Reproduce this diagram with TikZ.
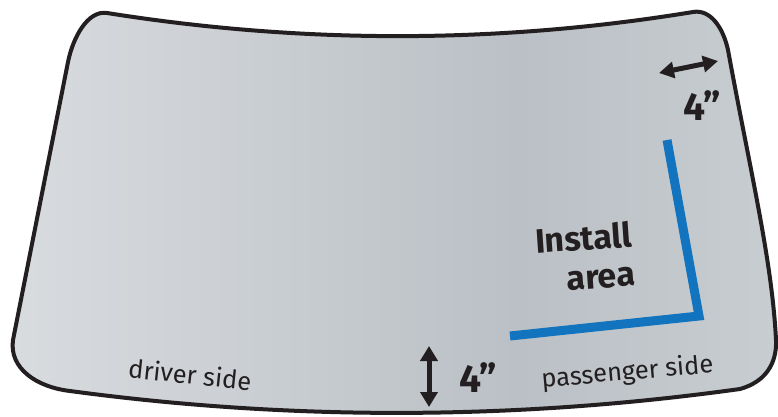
\documentclass[tikz,border=0pt]{standalone}
\usepackage{fontspec}
\setmainfont{Fira Sans}
\usetikzlibrary{arrows.meta}
\definecolor{glassA}{RGB}{216,220,223}
\definecolor{glassB}{RGB}{205,209,213}
\definecolor{glassC}{RGB}{186,192,197}
\definecolor{glassD}{RGB}{200,205,209}
\definecolor{rim}{RGB}{35,31,32}
\definecolor{installblue}{RGB}{18,115,190}
\definecolor{inktext}{RGB}{35,31,32}
\pgfdeclarehorizontalshading{glass}{100bp}{color(0bp)=(glassA); color(25bp)=(glassA); color(38bp)=(glassB); color(58bp)=(glassC); color(75bp)=(glassD); color(100bp)=(glassD)}
\tikzset{
  rimline/.style={draw=rim, line width=4pt, line join=round, shading=glass},
  installline/.style={draw=installblue, line width=9pt, line join=miter},
  dimarrow/.style={draw=rim, line width=5pt, {Triangle[width=17pt,length=15pt]}-{Triangle[width=17pt,length=15pt]}},
  sidelabel/.style={text=inktext, font=\fontsize{25.5}{30}\selectfont, anchor=base, inner sep=0pt},
  biglabel/.style={text=inktext, font=\fontsize{34}{39}\selectfont\bfseries, inner sep=0pt},
  dimlabel/.style={text=inktext, font=\fontsize{39}{44}\selectfont\bfseries, anchor=base, inner sep=0pt}
}
\begin{document}
\begin{tikzpicture}[x=1pt,y=-1pt]
\useasboundingbox (0,0) rectangle (778,417);
% windshield
\path[rimline] (107,13)
  .. controls (302,44) and (498,44) .. (693,12)
  .. controls (710,9) and (723,27) .. (728,50)
  .. controls (750,170) and (772,260) .. (776,340)
  .. controls (777,364) and (765,382) .. (740,389)
  .. controls (517,420) and (293,421) .. (70,391)
  .. controls (36,387) and (9,368) .. (13,340)
  -- (68,62)
  .. controls (73,37) and (88,10) .. cycle;
% install area bracket
\coordinate (b1) at (667,140);
\coordinate (b2) at (699,316);
\coordinate (b3) at (510,336);
\draw[installline] (b1) -- (b2) -- (b3);
% dimension arrows
\coordinate (v1) at (429,346);
\coordinate (v2) at (429,407);
\draw[dimarrow] (v1) -- (v2);
\coordinate (h1) at (659,73);
\coordinate (h2) at (718,61);
\draw[dimarrow, {Triangle[width=16pt,length=15pt]}-{Triangle[width=16pt,length=15pt]}] (h1) -- (h2);
% labels
\node[sidelabel, rotate=-6] (driver) at (189,384) {driver side};
\node[sidelabel, rotate=5] (passenger) at (628,380) {passenger side};
\node[biglabel, rotate=4, align=right] (install) at (585,257) {Install\\area};
\node[dimlabel] (dimtop) at (702,121) {4”};
\node[dimlabel] (dimbottom) at (478,392) {4”};
\end{tikzpicture}
\end{document}
